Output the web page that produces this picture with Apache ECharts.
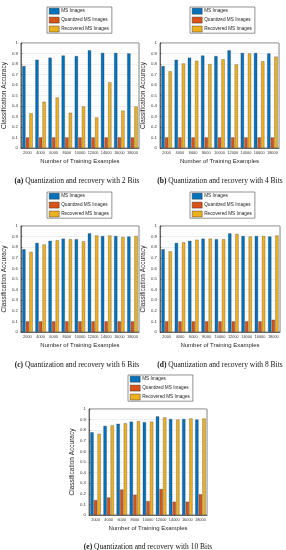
<!DOCTYPE html>
<html><head><meta charset="utf-8">
<script src="https://cdn.jsdelivr.net/npm/echarts@6/dist/echarts.min.js"></script>
<style>html,body{margin:0;padding:0;background:#fff}#c{width:286px;height:550px}</style>
</head><body><div id="c"></div>
<script>
const categories = ['2000','4000','6000','8000','10000','12000','14000','16000','18000'];
const seriesNames = ['MS Images','Quantized MS Images','Recovered MS Images'];
const msImages = [0.78,0.84,0.86,0.88,0.875,0.93,0.905,0.905,0.90];
const quantized2 = [0.1,0.1,0.1,0.1,0.1,0.1,0.1,0.1,0.1];
const recovered2 = [0.33,0.44,0.48,0.335,0.395,0.29,0.625,0.355,0.395];
const quantized4 = [0.1,0.1,0.1,0.1,0.1,0.1,0.1,0.1,0.1];
const recovered4 = [0.73,0.805,0.83,0.80,0.845,0.795,0.90,0.825,0.87];
const quantized6 = [0.1,0.1,0.1,0.1,0.1,0.1,0.1,0.1,0.1];
const recovered6 = [0.755,0.825,0.865,0.875,0.855,0.91,0.91,0.895,0.905];
const quantized8 = [0.1,0.1,0.1,0.1,0.1,0.1,0.1,0.1,0.115];
const recovered8 = [0.76,0.845,0.87,0.88,0.875,0.925,0.90,0.905,0.91];
const quantized10 = [0.14,0.165,0.24,0.19,0.13,0.245,0.125,0.125,0.195];
const recovered10 = [0.765,0.845,0.865,0.885,0.88,0.92,0.90,0.91,0.91];
const captionLabels = ['(a)','(b)','(c)','(d)','(e)'];
const captionTexts = ['Quantization and recovery with 2 Bits','Quantization and recovery with 4 Bits','Quantization and recovery with 6 Bits','Quantization and recovery with 8 Bits','Quantization and recovery with 10 Bits'];
const xAxisTitle = 'Number of Training Examples';
const yAxisTitle = 'Classification Accuracy';

const panels = [
  {q: quantized2, r: recovered2, grid:{left:19,top:43,width:120,height:105}, legend:{left:47,top:7}, cap:{x:72,y:172}},
  {q: quantized4, r: recovered4, grid:{left:160,top:43,width:119,height:105}, legend:{left:190,top:7}, cap:{x:215,y:172}},
  {q: quantized6, r: recovered6, grid:{left:19,top:226,width:120,height:106}, legend:{left:47,top:192}, cap:{x:72,y:356}},
  {q: quantized8, r: recovered8, grid:{left:160,top:226,width:120,height:106}, legend:{left:190,top:192}, cap:{x:215,y:356}},
  {q: quantized10, r: recovered10, grid:{left:89,top:409,width:118,height:106}, legend:{left:128,top:375}, cap:{x:143,y:538}}
];
const colors = ['#0072BD','#D95319','#EDB120'];
const axisCol = '#262626';
const font = '"Liberation Sans", Arial, sans-serif';

const option = {
  animation:false,
  color: colors,
  grid: [], xAxis: [], yAxis: [], series: [], legend: [], title: []
};
panels.forEach((p,i)=>{
  option.grid.push(Object.assign({show:true, borderColor:axisCol, borderWidth:0.6, backgroundColor:'#fff'}, p.grid));
  option.xAxis.push({
    type:'category', gridIndex:i, data:categories,
    name:xAxisTitle, nameLocation:'middle', nameGap:10,
    nameTextStyle:{fontSize:6, color:axisCol, fontFamily:font},
    axisLine:{lineStyle:{color:axisCol, width:0.6}},
    axisTick:{show:true, inside:true, length:1.5, alignWithLabel:true, lineStyle:{color:axisCol,width:0.5}},
    axisLabel:{fontSize:3.9, color:'#333', margin:3, interval:0, fontFamily:font},
    splitLine:{show:false}
  });
  option.yAxis.push({
    type:'value', gridIndex:i, min:0, max:1, interval:0.1,
    name:yAxisTitle, nameLocation:'middle', nameGap:9, nameRotate:90,
    nameTextStyle:{fontSize:6.5, color:axisCol, fontFamily:font},
    axisLine:{show:true, lineStyle:{color:axisCol, width:0.6}},
    axisTick:{show:true, inside:true, length:1.5, lineStyle:{color:axisCol,width:0.5}},
    axisLabel:{fontSize:4.3, color:'#333', margin:3, fontFamily:font},
    splitLine:{show:true, lineStyle:{color:'#dcdcdc', width:0.5}},
    minorTick:{show:false, splitNumber:5},
    minorSplitLine:{show:true, lineStyle:{color:'#eeeeee', width:0.5, type:'dotted'}}
  });
  const data = [msImages, p.q, p.r];
  data.forEach((d,k)=>{
    option.series.push({
      type:'bar', name:seriesNames[k], xAxisIndex:i, yAxisIndex:i, data:d,
      barWidth:3.2, barGap:'12%',
      itemStyle:{color:colors[k], borderColor:'#333', borderWidth:0.3}
    });
  });
  option.legend.push({
    data:seriesNames, orient:'vertical', left:p.legend.left, top:p.legend.top,
    itemWidth:10, itemHeight:6, itemGap:2.5, padding:[1,3,1,2],
    borderColor:axisCol, borderWidth:0.5, backgroundColor:'#fff', borderRadius:0,
    icon:'rect', selectedMode:false,
    itemStyle:{borderColor:'#222', borderWidth:0.4},
    textStyle:{fontSize:4.7, color:'#222', fontFamily:font, padding:[0,0,0,-3]}
  });
  option.title.push({
    text:'{b|'+captionLabels[i]+'} '+captionTexts[i],
    left:p.cap.x, top:p.cap.y, textAlign:'center',
    textStyle:{fontSize:7.5, fontWeight:'normal', color:'#111', fontFamily:'"Liberation Serif", "DejaVu Serif", serif',
      rich:{b:{fontSize:7.5, fontWeight:'bold', color:'#111', fontFamily:'"Liberation Serif", "DejaVu Serif", serif'}}}
  });
});
const chart = echarts.init(document.getElementById('c'));
chart.setOption(option);
</script></body></html>
